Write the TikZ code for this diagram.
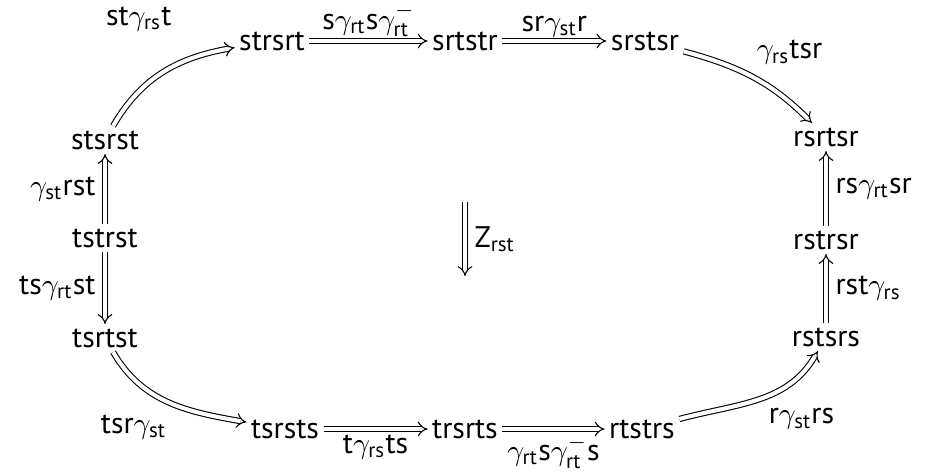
\documentclass[tikz,border=0pt]{standalone}
\usepackage{amsmath}
\usepackage{amssymb}
\usepackage{fontspec}
\setsansfont{PT Sans}
\usepackage{tikz}
\usetikzlibrary{arrows.meta}

\newcommand{\wrd}[1]{\mathsf{#1}}
\newcommand{\gm}[1]{\gamma_{\mathsf{#1}}}
\newcommand{\gi}[1]{\gamma^{\raisebox{-3pt}{$\scriptstyle-$}}_{\mathsf{#1}}}

\tikzset{
 imp/.style={double,double distance=1.5pt,line width=0.4pt,-{Implies}},
 word/.style={inner sep=1.5pt}
}

\begin{document}
\begin{tikzpicture}[x=0.01297cm,y=-0.01297cm,font=\fontsize{11}{13}\selectfont]
 \useasboundingbox (0,0) rectangle (925,475);
 %top row
 \node[word] (strsrt) at (272,41) {$\wrd{strsrt}$};
 \node[word] (srtstr) at (465,41) {$\wrd{srtstr}$};
 \node[word] (srstsr) at (645,41) {$\wrd{srstsr}$};
 %right column
 \node[word] (rsrtsr) at (826,137) {$\wrd{rsrtsr}$};
 \node[word] (rstrsr) at (826,240) {$\wrd{rstrsr}$};
 \node[word] (rstsrs) at (826,337) {$\wrd{rstsrs}$};
 %left column
 \node[word] (stsrst) at (105,140) {$\wrd{stsrst}$};
 \node[word] (tstrst) at (105,238) {$\wrd{tstrst}$};
 \node[word] (tsrtst) at (105,338) {$\wrd{tsrtst}$};
 %bottom row
 \node[word] (tsrsts) at (285,429) {$\wrd{tsrsts}$};
 \node[word] (trsrts) at (465,429) {$\wrd{trsrts}$};
 \node[word] (rtstrs) at (642,429) {$\wrd{rtstrs}$};
 %middle
 \coordinate (Ztop) at (465,202);
 \coordinate (Zbot) at (465,276);

 \draw[imp] (stsrst) to[out=60,in=190] node[pos=0.7,anchor=south east,xshift=-3pt,yshift=7pt] {$\wrd{st}\gm{rs}\wrd{t}$} (strsrt);
 \draw[imp] (strsrt) -- node[above,inner sep=1.2pt] {$\wrd{s}\gm{rt}\wrd{s}\gi{rt}$} (srtstr);
 \draw[imp] (srtstr) -- node[above,inner sep=1.2pt] {$\wrd{sr}\gm{st}\wrd{r}$} (srstsr);
 \draw[imp] (srstsr) to[out=-15,in=135] node[pos=0.45,anchor=south west] {$\gm{rs}\wrd{tsr}$} (rsrtsr);
 \draw[imp] (rstrsr) -- node[right] {$\wrd{rs}\gm{rt}\wrd{sr}$} (rsrtsr);
 \draw[imp] (rstsrs) -- node[right] {$\wrd{rst}\gm{rs}$} (rstrsr);
 \draw[imp] (tstrst) -- node[left] {$\gm{st}\wrd{rst}$} (stsrst);
 \draw[imp] (tstrst) -- node[left] {$\wrd{ts}\gm{rt}\wrd{st}$} (tsrtst);
 \draw[imp] (tsrtst) to[out=-60,in=170] node[pos=0.55,below left] {$\wrd{tsr}\gm{st}$} (tsrsts);
 \draw[imp] (tsrsts) -- node[below,inner sep=2pt] {$\wrd{t}\gm{rs}\wrd{ts}$} (trsrts);
 \draw[imp] (trsrts) -- node[below,inner sep=2pt] {$\gm{rt}\wrd{s}\gi{rt}\wrd{s}$} (rtstrs);
 \draw[imp] (rtstrs) to[out=15,in=240] node[pos=0.5,below right] {$\wrd{r}\gm{st}\wrd{rs}$} (rstsrs);
 \draw[imp] (Ztop) -- node[right] {$\wrd{Z}_{\wrd{rst}}$} (Zbot);
\end{tikzpicture}
\end{document}
